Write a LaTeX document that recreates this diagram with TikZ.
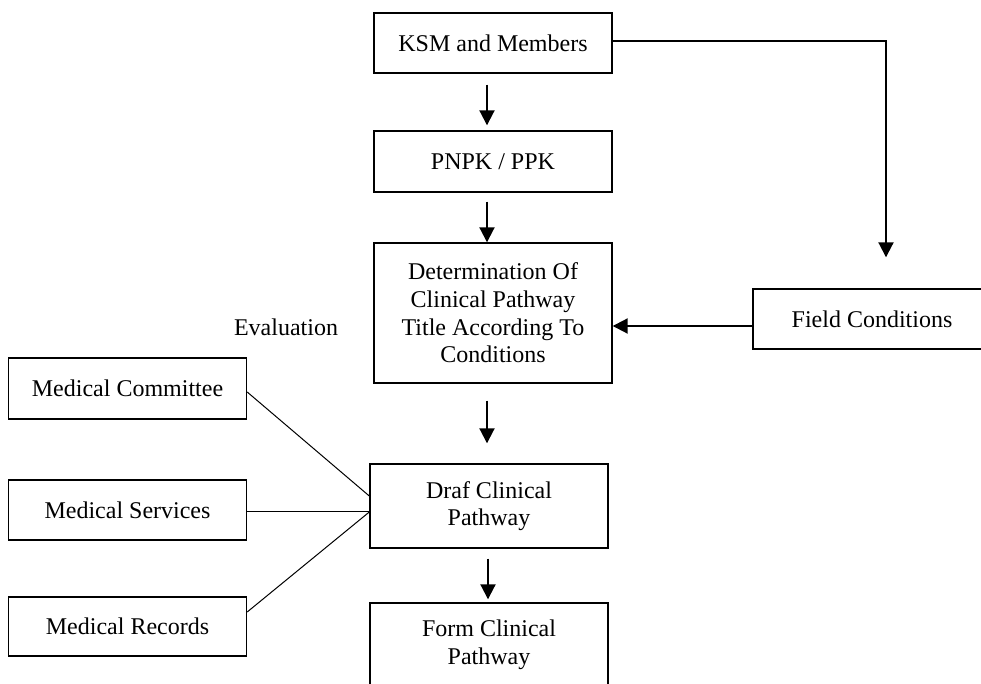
\documentclass[tikz,border=0pt]{standalone}
\usepackage{fontspec}
\setmainfont{Liberation Serif}
\usetikzlibrary{arrows.meta,calc}

\begin{document}
\begin{tikzpicture}[x=0.5pt,y=-0.5pt,font=\fontsize{12}{13.8}\selectfont,
  box/.style={draw,line width=0.7pt,minimum width=119pt,inner sep=2pt,align=center},
  arr/.style={line width=1pt,-{Triangle[length=7.5pt,width=7.5pt]}},
  link/.style={line width=0.5pt}]
\useasboundingbox (0,0) rectangle (981,684);

\node[box,minimum height=30pt] (ksm) at (493,43) {KSM and Members};
\node[box,minimum height=30.5pt] (pnpk) at (493,161.5) {PNPK / PPK};
\node[box,minimum height=70pt] (det) at (493,313) {Determination Of\\Clinical Pathway\\Title According To\\Conditions};
\node[box,minimum height=42pt] (draf) at (489,506) {Draf Clinical\\Pathway};
\node[box,minimum height=42pt] (form) at (489,645) {Form Clinical\\Pathway};
\node[box,minimum height=30pt] (field) at (872,319) {Field Conditions};

\node[box,minimum height=30.5pt] (comm) at (127.5,388.5) {Medical Committee};
\node[box,minimum height=30pt] (serv) at (127.5,510) {Medical Services};
\node[box,minimum height=29.5pt] (rec) at (127.5,626.5) {Medical Records};
\node (eval) at (286,327) {Evaluation};

\coordinate (fieldin) at ($(field.north)+(14,-31)$);

\draw[arr] ($(ksm.south)+(-6,11)$) -- ($(pnpk.north)+(-6,-5)$);
\draw[arr] ($(pnpk.south)+(-6,9)$) -- ($(det.north)+(-6,0)$);
\draw[arr] ($(det.south)+(-6,17)$) -- ($(draf.north)+(-2,-20)$);
\draw[arr] ($(draf.south)+(-1,10)$) -- ($(form.north)+(-1,-3)$);
\draw[arr] ($(ksm.east)+(0,-2)$) -| (fieldin);
\draw[arr] ($(field.west)+(0,7)$) -- ($(det.east)+(0,13)$);

\draw[link] ($(comm.east)+(0,3.5)$) -- ($(draf.west)+(0,-10)$);
\draw[link] ($(serv.east)+(0,2)$) -- ($(draf.west)+(0,6)$);
\draw[link] ($(rec.east)+(0,-14.5)$) -- ($(draf.west)+(0,6)$);

\end{tikzpicture}
\end{document}
